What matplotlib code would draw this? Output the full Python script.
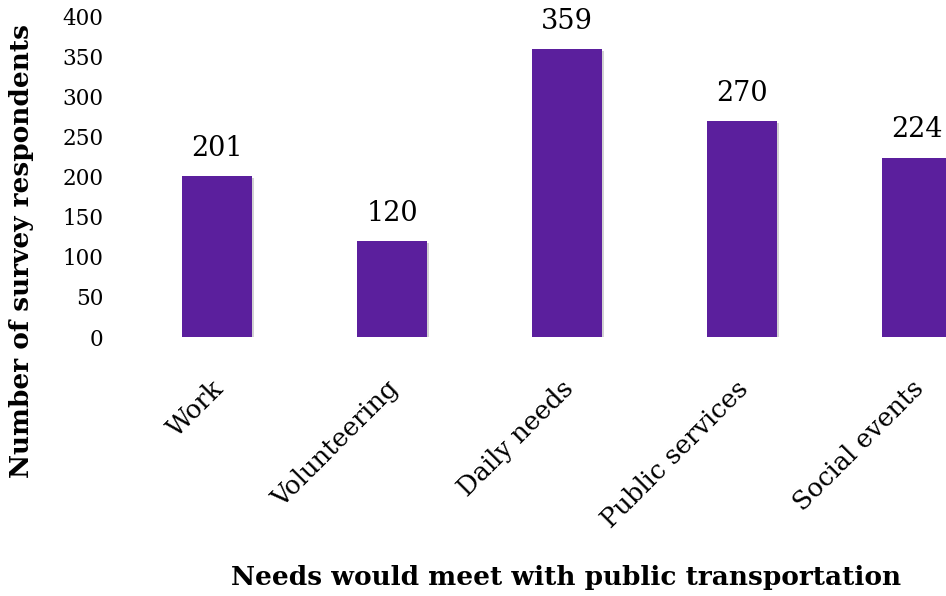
import matplotlib
matplotlib.use("Agg")
import matplotlib.pyplot as plt
import matplotlib.patheffects as pe
from matplotlib.transforms import ScaledTranslation

# survey data
needs = ["Work", "Volunteering", "Daily needs", "Public services", "Social events"]
respondents = [201, 120, 359, 270, 224]
y_ticks = [0, 50, 100, 150, 200, 250, 300, 350, 400]

bar_color = "#5b1f9d"
plt.rcParams["font.family"] = "DejaVu Serif"

fig = plt.figure(figsize=(9.46, 5.96), dpi=100)
# axes run past the right edge, like the cropped original
ax = fig.add_axes([130 / 946, 1 - 337 / 596, 874 / 946, 320.5 / 596])

xs = list(range(len(needs)))
bars = ax.bar(xs, respondents, width=0.4, color=bar_color, zorder=2)
for b in bars:
    b.set_path_effects([pe.SimplePatchShadow(offset=(1.5, -1.5), shadow_rgbFace="gray", alpha=0.35),
                        pe.Normal()])

for x, v in zip(xs, respondents):
    ax.annotate(str(v), (x, v), xytext=(0, 14.5), textcoords="offset points",
                ha="center", va="baseline", fontsize=19.5, color="black")

ax.set_xlim(-0.5, len(needs) - 0.5)
ax.set_ylim(0, 400)
ax.set_yticks(y_ticks)
ax.set_yticklabels([str(t) for t in y_ticks], fontsize=15.5)
ax.set_xticks(xs)
ax.set_xticklabels(needs, rotation=45, ha="right", va="top", rotation_mode="anchor", fontsize=18.5)
ax.tick_params(axis="y", length=0, pad=19)
ax.tick_params(axis="x", length=0, pad=28)
shift = ScaledTranslation(-6 / 100, 0, fig.dpi_scale_trans)
for lbl in ax.get_xticklabels():
    lbl.set_transform(lbl.get_transform() + shift)

for s in ax.spines.values():
    s.set_visible(False)

fig.text(22 / 946, 1 - 251 / 596, "Number of survey respondents", rotation=90,
         ha="center", va="center", fontsize=19, fontweight="bold")
fig.text(566 / 946, 1 - 578 / 596, "Needs would meet with public transportation",
         ha="center", va="center", fontsize=19, fontweight="bold")

fig.savefig("out.png", dpi=100)
